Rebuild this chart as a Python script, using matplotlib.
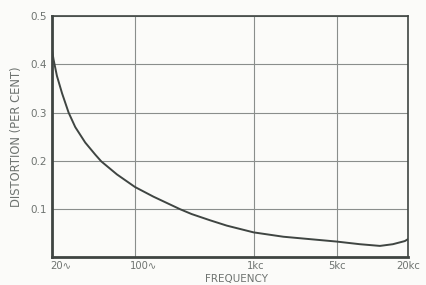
import matplotlib
matplotlib.use("Agg")
import matplotlib.pyplot as plt
from matplotlib.ticker import FixedLocator, NullLocator

freq = [20, 20.6, 22, 24.3, 27.6, 31.4, 38.1, 46.3, 52, 70.5, 100, 143, 240, 300, 430,
        594, 1000, 1780, 5000, 7870, 11600, 14900, 18800, 20000]
dist = [0.43, 0.41, 0.376, 0.34, 0.30, 0.27, 0.238, 0.213, 0.199, 0.172, 0.146, 0.126, 0.10, 0.09, 0.077,
        0.066, 0.052, 0.043, 0.033, 0.0275, 0.024, 0.0275, 0.034, 0.038]

xticks = [20, 100, 1000, 5000, 20000]
xticklabels = ["20\u223f", "100\u223f", "1kc", "5kc", "20kc"]
yticks = [0.1, 0.2, 0.3, 0.4, 0.5]
yticklabels = ["0.1", "0.2", "0.3", "0.4", "0.5"]

bg = "#fbfbf9"
ink = "#3f4542"
txt = "#6e7370"

fig = plt.figure(figsize=(4.27, 2.85), dpi=100, facecolor=bg)
ax = fig.add_axes([0.1218, 0.0965, 0.8337, 0.8474], facecolor=bg)
ax.set_xscale("log")
ax.set_xlim(20, 20000)
ax.set_ylim(0, 0.5)

ax.xaxis.set_major_locator(FixedLocator(xticks))
ax.xaxis.set_minor_locator(NullLocator())
ax.set_xticklabels([])
ax.set_yticks(yticks)
ax.set_yticklabels(yticklabels)

for xv, lab in zip(xticks, xticklabels):
    dx = 9 if "\u223f" in lab else (2 if lab == "1kc" else 0)
    ax.annotate(lab, xy=(xv, 0), xycoords=("data", "axes fraction"),
                xytext=(dx * 0.72, -2.5), textcoords="offset points",
                ha="center", va="top", fontsize=7.2, color=txt,
                annotation_clip=False)

ax.grid(True, color="#8a8e8c", linewidth=0.8)
ax.set_axisbelow(True)
for s in ax.spines.values():
    s.set_color(ink)
    s.set_linewidth(1.2)
ax.spines["left"].set_linewidth(2.0)
ax.spines["bottom"].set_linewidth(2.0)

ax.tick_params(length=0, pad=4, labelsize=7.5, labelcolor=txt)

ax.plot(freq, dist, color=ink, linewidth=1.4, solid_capstyle="round", solid_joinstyle="round")

ax.set_ylabel("DISTORTION (PER CENT)", fontsize=8.3, color=txt, labelpad=5)
fig.text(0.555, 0.003, "FREQUENCY", fontsize=7.5, color=txt, ha="center", va="bottom")

fig.savefig("out.png", dpi=100, facecolor=bg)
